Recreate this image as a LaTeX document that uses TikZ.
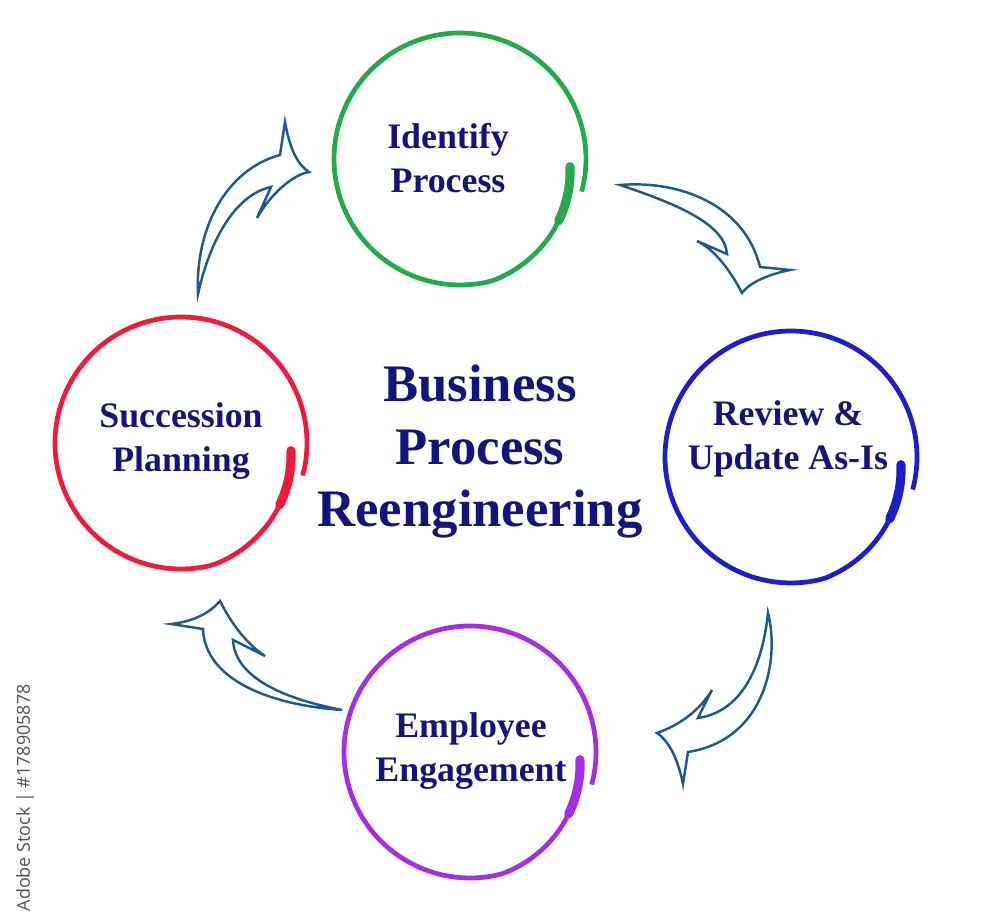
\documentclass[tikz,border=0pt]{standalone}
\usepackage{fontspec}
\setmainfont{Liberation Serif}
\newfontfamily\stockfont{Open Sans}
\usepackage{tikz}
\usetikzlibrary{positioning}
\usepackage{xcolor}
\definecolor{bprgreen}{HTML}{22AA4C}
\definecolor{bprblue}{HTML}{1E1EC8}
\definecolor{bprred}{HTML}{EE1C3A}
\definecolor{bprpurple}{HTML}{A52FE0}
\definecolor{bprnavy}{HTML}{14147A}
\definecolor{bprarrow}{HTML}{1B5A8A}
\definecolor{bprgray}{HTML}{505050}

% hand drawn ring: thick brush start, thin tail past it
\newcommand{\brushring}[2]{%
  \draw[#2, line width=1.35pt, shift={(#1)}, variable=\t, domain=3:375,
    samples=90, smooth] plot (\t:{126-16*max(0,(75-\t)/72)});
  \draw[#2, line width=2.6pt, line cap=round, shift={(#1)}, variable=\t,
    domain=4:32, samples=12, smooth] plot (\t:{126-16*max(0,(75-\t)/72)});
}

\begin{document}
\begin{tikzpicture}[x=0.1mm, y=-0.1mm,
  lbl/.style={font=\fontsize{10.2}{12.8}\selectfont\bfseries, text=bprnavy,
    align=center, anchor=base, inner sep=0pt},
  ttl/.style={font=\fontsize{15}{17.9}\selectfont\bfseries, text=bprnavy,
    align=center, anchor=base, inner sep=0pt},
  arr/.style={draw=bprarrow, line width=0.7pt, fill=white}
]
  \fill[white] (0,0) rectangle (1000,924);
  \useasboundingbox (0,0) rectangle (1000,924);

  % Ring centres
  \coordinate (cid) at (460,159);
  \coordinate (crev) at (791,457);
  \coordinate (cemp) at (470,752);
  \coordinate (csuc) at (181,443);

  % Rings
  \brushring{cid}{bprgreen}
  \brushring{crev}{bprblue}
  \brushring{cemp}{bprpurple}
  \brushring{csuc}{bprred}

  % Labels (placed on the baseline of the last line)
  \node[lbl] (idproc) at (448,193) {Identify\\Process};
  \node[lbl] (review) at (788,470) {Review \&\\Update As-Is};
  \node[lbl] (employ) at (471,782) {Employee\\Engagement};
  \node[lbl] (succ) at (181,472) {Succession\\Planning};

  % Centre title
  \node[ttl] (bpr) at (480,527) {Business\\Process\\Reengineering};

  % Arrows: succession -> identify
  \draw[arr] (198,294) .. controls (195,230) and (225,170) .. (280,155)
    -- (285,122) .. controls (290,150) and (298,165) .. (309,172)
    .. controls (292,175) and (270,195) .. (257,218)
    -- (271,187) .. controls (235,195) and (210,240) .. cycle;

  % identify -> review
  \draw[arr] (620,185) .. controls (680,180) and (745,205) .. (760,267)
    -- (790,270) .. controls (770,274) and (750,282) .. (742,293)
    .. controls (730,270) and (715,250) .. (697,241)
    -- (727,254) .. controls (725,225) and (680,205) .. cycle;

  % review -> employee
  \draw[arr] (768,613) .. controls (780,660) and (765,740) .. (688,752)
    -- (683,784) .. controls (678,760) and (670,742) .. (657,733)
    .. controls (680,725) and (700,710) .. (712,690)
    -- (698,718) .. controls (740,712) and (762,670) .. cycle;

  % employee -> succession
  \draw[arr] (342,710) .. controls (270,705) and (205,680) .. (203,629)
    -- (171,624) .. controls (190,622) and (208,615) .. (220,601)
    .. controls (232,625) and (248,645) .. (265,656)
    -- (233,640) .. controls (235,680) and (290,700) .. cycle;

  % Stock tag
  \node[rotate=90, anchor=base west, inner sep=0pt, text=bprgray,
    font=\stockfont\fontsize{5.1}{6}\selectfont] (stock) at (30,912)
    {Adobe Stock | \#178905878};
\end{tikzpicture}
\end{document}
